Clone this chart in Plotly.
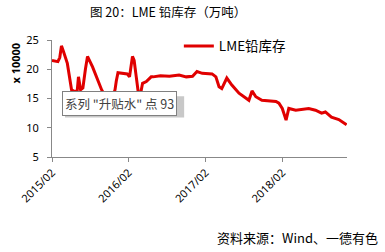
import plotly.graph_objects as go

dates = ["2015-02-01","2015-03-01","2015-03-10","2015-03-18","2015-03-28","2015-04-15","2015-05-05","2015-05-20",
         "2015-06-01","2015-06-07","2015-06-17","2015-06-28","2015-07-10","2015-07-20","2015-08-13","2015-09-06",
         "2015-09-25","2015-10-10","2015-10-28","2015-11-15","2015-11-28","2015-12-04","2015-12-12","2016-01-25",
         "2016-02-05","2016-02-19","2016-02-27","2016-03-08","2016-03-17","2016-03-27","2016-04-07","2016-04-25",
         "2016-05-18","2016-05-27","2016-07-01","2016-08-13","2016-09-28","2016-11-01","2016-12-01","2016-12-22","2017-01-16","2017-03-04",
         "2017-03-22","2017-04-06","2017-04-19","2017-05-13","2017-06-06","2017-07-10","2017-08-12","2017-08-26",
         "2017-09-10","2017-09-28","2017-10-27","2018-01-02","2018-01-16","2018-02-01","2018-02-19","2018-03-04",
         "2018-04-06","2018-06-07","2018-07-09","2018-08-07","2018-08-25","2018-09-23","2018-10-28","2018-12-04"]
values = [21.5,21.3,22.0,24.0,23.0,21.0,16.5,16.2,
          16.3,18.7,16.5,16.8,20.0,22.2,20.4,18.2,
          16.5,15.5,14.5,15.0,16.5,18.0,19.4,19.2,
          18.7,22.2,21.5,18.7,16.2,15.5,17.6,17.9,
          18.7,18.7,18.9,18.8,19.0,18.7,18.8,19.6,19.3,19.2,
          18.7,17.0,16.7,18.5,17.3,15.9,15.0,14.7,
          16.3,15.3,14.7,14.5,14.2,13.3,11.3,13.3,
          13.0,13.3,13.0,12.5,12.7,11.8,11.4,10.5]

tick_vals = ["2015-02-01","2016-02-01","2017-02-01","2018-02-01"]
tick_text = ["2015/02","2016/02","2017/02","2018/02"]
y_ticks = [5,10,15,20,25]

series_name = "LME铅库存"
title_text = "图 20：LME 铅库存（万吨）"
y_title = "x 10000"
tooltip_text = '系列 "升贴水" 点 93'
source_text = "资料来源：Wind、一德有色"

fig = go.Figure()
fig.add_trace(go.Scatter(x=dates, y=values, mode="lines", name=series_name,
                         line=dict(color="#E00000", width=3)))

font_cjk = "Noto Sans CJK SC"
fig.update_layout(
    width=385, height=252,
    margin=dict(l=52, r=38, t=40, b=95),
    paper_bgcolor="white", plot_bgcolor="white",
    showlegend=True,
    legend=dict(x=0.43, y=1.08, xanchor="left", yanchor="top",
                font=dict(family=font_cjk, size=13.5, color="black"),
                bgcolor="rgba(0,0,0,0)", itemwidth=30),
    xaxis=dict(type="date", range=["2015-02-01","2018-12-06"],
               tickvals=tick_vals, ticktext=tick_text, tickangle=-45,
               showgrid=False, zeroline=False, showline=True, linecolor="#888888", linewidth=1,
               ticks="outside", ticklen=4, tickcolor="#888888",
               tickfont=dict(family="Noto Sans", size=11, color="black")),
    yaxis=dict(range=[5,25], tickvals=y_ticks, ticklabelstandoff=6,
               showgrid=False, zeroline=False, showline=True, linecolor="#888888", linewidth=1,
               ticks="outside", ticklen=4, tickcolor="#888888",
               tickfont=dict(family="Noto Sans", size=11, color="black")),
    shapes=[
        dict(type="rect", xref="paper", yref="paper", x0=0.044, x1=0.448, y0=0.338, y1=0.52,
             fillcolor="#c8c8c8", line=dict(width=0), layer="above"),
    ],
    annotations=[
        dict(text=title_text, xref="paper", yref="paper", x=0.393, y=1.24,
             xanchor="center", yanchor="middle", showarrow=False,
             font=dict(family=font_cjk, size=12.5, color="black")),
        dict(text="<b>"+y_title+"</b>", xref="paper", yref="paper", x=-0.125, y=0.8,
             xanchor="center", yanchor="middle", showarrow=False, textangle=-90,
             font=dict(family="Noto Sans", size=11, color="black")),
        dict(text=tooltip_text, xref="paper", yref="paper", x=0.034, y=0.56,
             xanchor="left", yanchor="top", showarrow=False, borderwidth=1, borderpad=2,
             bgcolor="white", bordercolor="#808080",
             font=dict(family=font_cjk, size=12.5, color="#404040")),
        dict(text=source_text, xref="paper", yref="paper", x=1.112, y=-0.69,
             xanchor="right", yanchor="middle", showarrow=False,
             font=dict(family=font_cjk, size=13, color="black")),
    ],
)

fig.write_html("out.html")
